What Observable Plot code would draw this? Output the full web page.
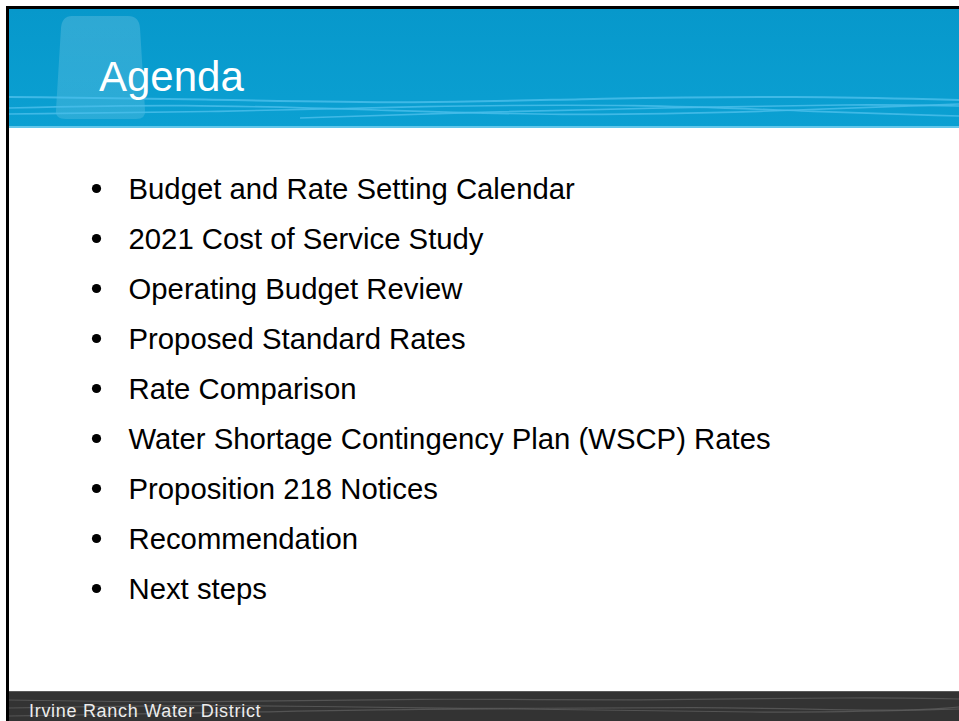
<!DOCTYPE html>
<html>
<head>
<meta charset="utf-8">
<script src="https://cdn.jsdelivr.net/npm/d3@7"></script>
<script src="https://cdn.jsdelivr.net/npm/@observablehq/plot@0.6"></script>
<style>
  html, body { margin: 0; padding: 0; background: #fff; }
  #chart svg { display: block; }
</style>
</head>
<body>
<div id="chart"></div>
<script>
const slideTitle = "Agenda";
const footerText = "Irvine Ranch Water District";
const agendaItems = [
  "Budget and Rate Setting Calendar",
  "2021 Cost of Service Study",
  "Operating Budget Review",
  "Proposed Standard Rates",
  "Rate Comparison",
  "Water Shortage Contingency Plan (WSCP) Rates",
  "Proposition 218 Notices",
  "Recommendation",
  "Next steps"
];

const FONT = "'Liberation Sans', Arial, Helvetica, sans-serif";

// Slide frame: header band, glass shape, waves, footer, border, title and footer text
function slideFrame() {
  const g = d3.create("svg:g").attr("text-anchor", "start");
  const defs = g.append("defs");
  const hg = defs.append("linearGradient").attr("id", "hdrGrad").attr("x1", 0).attr("y1", 0).attr("x2", 0).attr("y2", 1);
  hg.append("stop").attr("offset", "0%").attr("stop-color", "#0798cb");
  hg.append("stop").attr("offset", "100%").attr("stop-color", "#0ba0d2");
  const gg = defs.append("linearGradient").attr("id", "glassGrad").attr("x1", 0).attr("y1", 0).attr("x2", 0).attr("y2", 1);
  gg.append("stop").attr("offset", "0%").attr("stop-color", "#ffffff").attr("stop-opacity", 0.16);
  gg.append("stop").attr("offset", "100%").attr("stop-color", "#ffffff").attr("stop-opacity", 0.13);

  // header
  g.append("rect").attr("x", 9).attr("y", 9).attr("width", 950).attr("height", 118).attr("fill", "url(#hdrGrad)");
  g.append("rect").attr("x", 9).attr("y", 126).attr("width", 950).attr("height", 2).attr("fill", "#62c6ea");

  // glass shape
  g.append("path")
    .attr("d", "M72,16 L128,16 Q139,16 140,28 L145,110 Q146,119 136,119 L66,119 Q55,119 56,110 L61,28 Q62,16 72,16 Z")
    .attr("fill", "url(#glassGrad)");

  // waves in header
  const line = d3.line().curve(d3.curveBasis);
  const waves = [
    [[9,97],[200,99],[420,104],[600,98],[800,96],[959,100]],
    [[9,108],[180,104],[380,110],[560,116],[760,112],[959,104]],
    [[9,114],[220,112],[420,106],[640,104],[820,112],[959,116]],
    [[300,118],[480,112],[660,108],[860,104],[959,106]]
  ];
  waves.forEach((w, i) => {
    g.append("path").attr("d", line(w))
      .attr("fill", "none").attr("stroke", "#49bdea").attr("stroke-width", i === 0 ? 2 : 1.6).attr("stroke-opacity", 0.85);
  });

  // title
  g.append("text").attr("x", 99).attr("y", 91).attr("fill", "#ffffff").attr("text-anchor", "start")
    .attr("font-family", FONT).attr("font-size", 42).text(slideTitle);

  // footer
  g.append("rect").attr("x", 9).attr("y", 691).attr("width", 950).attr("height", 30).attr("fill", "#333333");
  g.append("rect").attr("x", 9).attr("y", 691).attr("width", 950).attr("height", 1).attr("fill", "#5a5a5a");
  const fwaves = [
    [[9,700],[200,703],[420,698],[640,701],[860,697],[959,699]],
    [[9,708],[240,704],[460,710],[700,706],[900,712],[959,707]],
    [[9,716],[260,712],[520,707],[760,714],[959,709]]
  ];
  fwaves.forEach(w => {
    g.append("path").attr("d", line(w))
      .attr("fill", "none").attr("stroke", "#5c5c5c").attr("stroke-width", 1.2).attr("stroke-opacity", 0.8);
  });
  g.append("text").attr("x", 29).attr("y", 717).attr("fill", "#ececec").attr("text-anchor", "start")
    .attr("font-family", FONT).attr("font-size", 18).attr("letter-spacing", "0.7px").text(footerText);

  // border
  g.append("rect").attr("x", 6).attr("y", 6).attr("width", 3).attr("height", 715).attr("fill", "#000");
  g.append("rect").attr("x", 6).attr("y", 6).attr("width", 953).attr("height", 3).attr("fill", "#000");
  return g.node();
}

const chart = Plot.plot({
  width: 959,
  height: 721,
  margin: 0,
  style: { background: "#ffffff", fontFamily: FONT, overflow: "hidden" },
  x: { type: "linear", domain: [0, 959], range: [0, 959], axis: null },
  y: { type: "point", domain: agendaItems, range: [185, 592], padding: 0, axis: null },
  marks: [
    slideFrame,
    Plot.dot(agendaItems, { x: () => 96, y: d => d, r: 4.6, fill: "#000", stroke: null, dy: -1 }),
    Plot.text(agendaItems, { x: () => 128, y: d => d, text: d => d, textAnchor: "start",
      fontSize: 29.3, fontFamily: FONT, fill: "#000" })
  ]
});
document.getElementById("chart").appendChild(chart);
</script>
</body>
</html>
